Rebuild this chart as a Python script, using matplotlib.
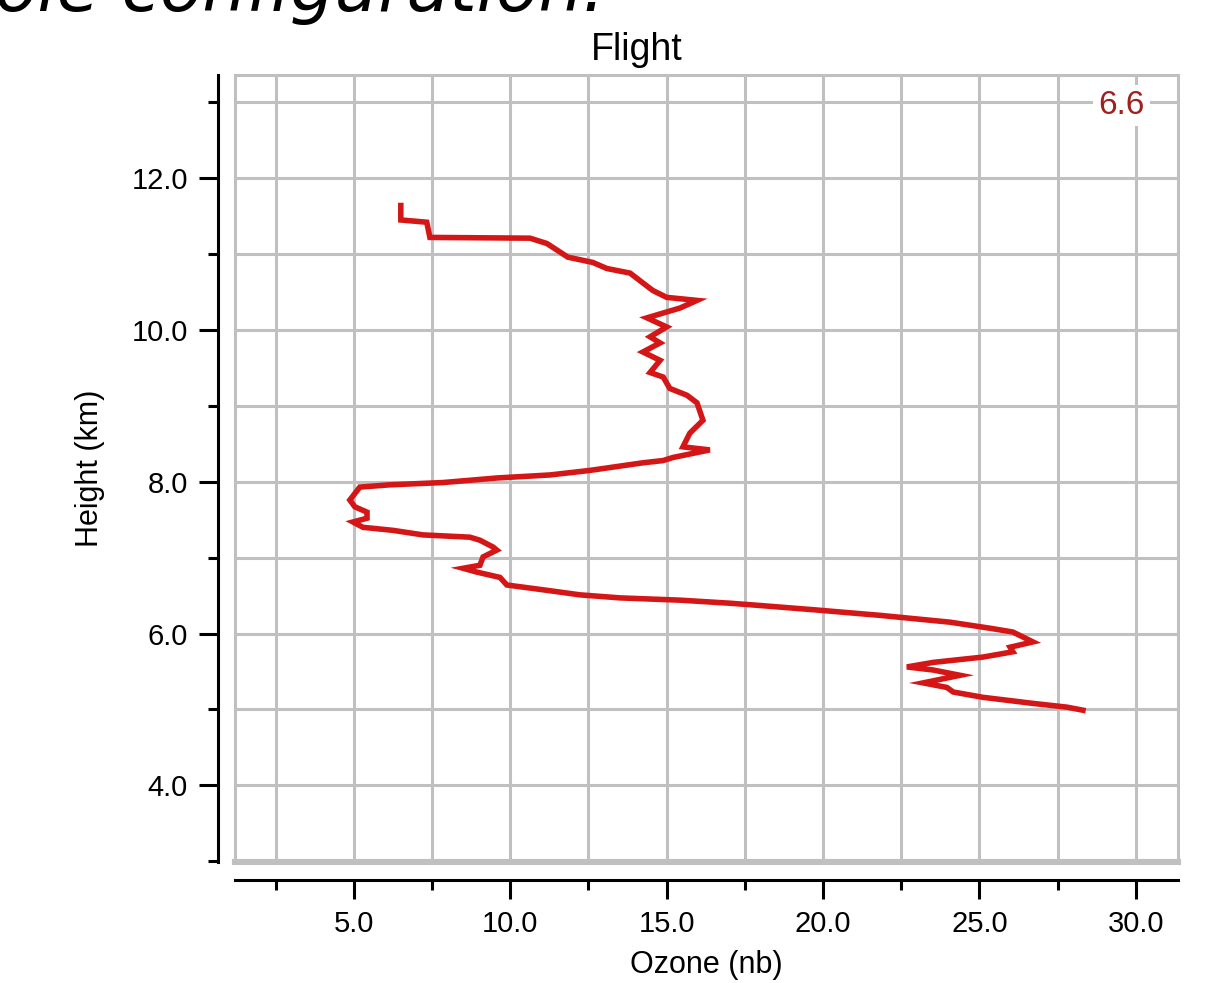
"""
Ozone flight profile plot.

Draws one ozone sounding (ozone partial pressure against height)
and saves it as out.png.
"""

from __future__ import annotations

import matplotlib

matplotlib.use("Agg")

import matplotlib.pyplot as plt
from matplotlib.ticker import FormatStrFormatter, MultipleLocator


# profile, from the top of the ascent downwards
ozone_nb = [
    6.50, 6.50, 7.33, 7.43, 10.63, 11.17, 11.84, 12.64, 13.09, 13.83,
    14.24, 14.56, 15.00, 15.97, 15.43, 14.37, 15.00, 14.47, 14.79, 14.24,
    14.79, 14.47, 14.89, 15.10, 15.65, 15.97, 16.16, 15.74, 15.52, 16.38,
    15.20, 14.89, 14.24, 12.55, 11.27, 9.57, 7.85, 6.15, 5.19, 4.87,
    5.03, 5.42, 5.42, 4.97, 5.29, 6.25, 7.21, 8.71, 9.03, 9.45,
    9.57, 9.13, 9.03, 8.49, 8.93, 9.67, 9.89, 11.17, 12.23, 13.51,
    15.43, 17.02, 17.98, 19.81, 21.82, 24.06, 25.34, 26.07, 26.71, 25.98,
    26.07, 25.11, 23.52, 22.68, 23.52, 24.38, 23.20, 23.96, 24.16, 25.11,
    26.71, 27.80, 28.31,
]
height_km = [
    11.64, 11.45, 11.42, 11.22, 11.21, 11.14, 10.96, 10.89, 10.81, 10.75,
    10.62, 10.52, 10.43, 10.39, 10.29, 10.16, 10.04, 9.91, 9.83, 9.71,
    9.60, 9.44, 9.38, 9.23, 9.14, 9.04, 8.81, 8.64, 8.46, 8.42,
    8.32, 8.28, 8.25, 8.15, 8.09, 8.05, 7.99, 7.96, 7.93, 7.76,
    7.67, 7.60, 7.52, 7.47, 7.40, 7.36, 7.30, 7.27, 7.23, 7.14,
    7.10, 7.01, 6.90, 6.86, 6.81, 6.74, 6.64, 6.57, 6.51, 6.47,
    6.44, 6.40, 6.37, 6.31, 6.24, 6.15, 6.07, 6.02, 5.89, 5.82,
    5.76, 5.69, 5.62, 5.56, 5.52, 5.45, 5.35, 5.29, 5.23, 5.16,
    5.08, 5.03, 4.99,
]

x_limits = (1.2, 31.35)
y_limits = (2.99, 13.36)

flight_title = "Flight"
x_label = "Ozone (nb)"
y_label = "Height (km)"
corner_value = "6.6"
page_caption = "ole configuration."

GRID_GRAY = "#c0c0c0"
LINE_RED = "#d41616"
LABEL_RED = "#a02020"


def setup_matplotlib() -> None:
    """
    基础字体设置。
    """

    plt.rcParams["font.family"] = ["Liberation Sans", "DejaVu Sans"]
    plt.rcParams["axes.unicode_minus"] = False


def style_axes(ax: plt.Axes) -> None:
    """
    灰色网格 + 偏移的黑色坐标轴。
    """

    ax.set_xlim(*x_limits)
    ax.set_ylim(*y_limits)

    ax.xaxis.set_major_locator(MultipleLocator(5.0))
    ax.xaxis.set_minor_locator(MultipleLocator(2.5))
    ax.yaxis.set_major_locator(MultipleLocator(2.0))
    ax.yaxis.set_minor_locator(MultipleLocator(1.0))
    ax.xaxis.set_major_formatter(FormatStrFormatter("%.1f"))
    ax.yaxis.set_major_formatter(FormatStrFormatter("%.1f"))

    ax.grid(True, which="both", color=GRID_GRAY, linewidth=2.2)
    ax.set_axisbelow(True)

    for side in ["left", "bottom"]:
        ax.spines[side].set_color("black")
        ax.spines[side].set_linewidth(2.2)
    ax.spines["left"].set_position(("outward", 12.2))
    ax.spines["bottom"].set_position(("outward", 13.0))

    for side in ["top", "right"]:
        ax.spines[side].set_color(GRID_GRAY)
        ax.spines[side].set_linewidth(2.2)

    # gray frame on the left and a thicker one at the bottom
    ax.plot([0, 0], [0, 1], transform=ax.transAxes, color=GRID_GRAY,
            linewidth=2.2, clip_on=False, zorder=1)
    ax.plot([0, 1], [0, 0], transform=ax.transAxes, color=GRID_GRAY,
            linewidth=4.4, clip_on=False, zorder=1)

    ax.tick_params(which="major", direction="out", length=13.7, width=2.2,
                   pad=8, labelsize=21, color="black")
    ax.tick_params(which="minor", direction="out", length=7.2, width=2.2,
                   color="black")


def plot_flight(out_path: str = "out.png") -> None:
    """
    绘制臭氧廓线并保存。
    """

    setup_matplotlib()

    fig = plt.figure(figsize=(12.09, 9.83), dpi=100)
    ax = fig.add_axes([0.1944, 0.1231, 0.78, 0.8006])

    style_axes(ax)

    ax.plot(ozone_nb, height_km, color=LINE_RED, linewidth=4.0,
            solid_joinstyle="miter", zorder=3)

    ax.set_xlabel(x_label, fontsize=22, va="top")
    ax.xaxis.set_label_coords(0.5, -0.112)
    ax.set_ylabel(y_label, fontsize=22, va="center")
    ax.yaxis.set_label_coords(-0.1538, 0.5)

    ax.text(
        0.940, 0.961, corner_value,
        transform=ax.transAxes, ha="center", va="center",
        fontsize=24, color=LABEL_RED, zorder=4,
        bbox=dict(boxstyle="square,pad=0.15", facecolor="white",
                  edgecolor="none"),
    )

    fig.text(637 / 1209, 0.939, flight_title, ha="center", va="baseline",
             fontsize=27)

    # page caption above the chart, mostly outside the picture
    fig.text(-0.004, 0.9885, page_caption, ha="left", va="baseline",
             fontsize=50, style="italic", family="DejaVu Sans")

    fig.savefig(out_path, dpi=100)
    plt.close(fig)


def main() -> None:
    plot_flight("out.png")


if __name__ == "__main__":
    main()
